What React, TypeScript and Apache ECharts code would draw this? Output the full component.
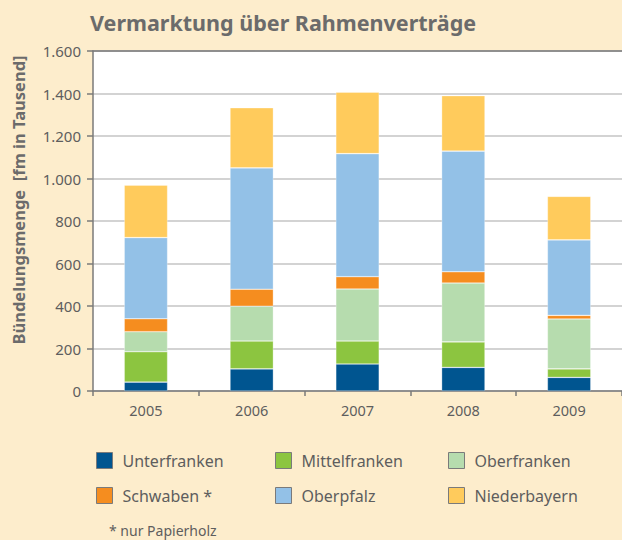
import { useEffect, useRef } from "react";
import * as echarts from "echarts";

const years = ["2005", "2006", "2007", "2008", "2009"];
const unterfranken = [42, 104, 127, 111, 64];
const mittelfranken = [143, 131, 108, 120, 40];
const oberfranken = [94, 164, 245, 277, 235];
const schwaben = [61, 80, 58, 53, 17];
const oberpfalz = [382, 571, 579, 568, 355];
const niederbayern = [247, 283, 289, 261, 205];

const seriesNames = ["Unterfranken", "Mittelfranken", "Oberfranken", "Schwaben", "Oberpfalz", "Niederbayern"];
const seriesData = [unterfranken, mittelfranken, oberfranken, schwaben, oberpfalz, niederbayern];
const seriesColors = ["#005590", "#8cc540", "#b6dcae", "#f58d1f", "#93c1e7", "#ffcb5c"];

const FONT = "Noto Sans";
const TEXT = "#5e5e5e";

function fmt(v: number): string {
  if (v >= 1000) {
    return Math.floor(v / 1000) + "." + String(v % 1000).padStart(3, "0");
  }
  return String(v);
}

export default function App() {
  const ref = useRef<HTMLDivElement>(null);
  useEffect(() => {
    document.body.style.margin = "0";
    if (!ref.current) return;
    const chart = echarts.init(ref.current, undefined, { renderer: "svg" });
    const legendCommon = {
      orient: "vertical" as const,
      top: 452,
      padding: 0,
      itemWidth: 16,
      itemHeight: 16,
      itemGap: 18,
      icon: "rect",
      itemStyle: { borderColor: "#7a7a7a", borderWidth: 1 },
      textStyle: { fontFamily: FONT, fontSize: 16, color: TEXT, padding: [0, 0, 0, 5] },
      formatter: (name: string) => (name === "Schwaben" ? "Schwaben *" : name),
      selectedMode: false,
    };
    chart.setOption({
      animation: false,
      backgroundColor: "#fdedcc",
      textStyle: { fontFamily: FONT },
      title: {
        text: "Vermarktung über Rahmenverträge",
        left: 85,
        top: 6,
        padding: [5, 5, 5, 5],
        textStyle: { fontFamily: FONT, fontSize: 21.5, fontWeight: "bold", color: "#6b6b6b" },
      },
      legend: [
        { ...legendCommon, left: 96, data: ["Unterfranken", "Schwaben"] },
        { ...legendCommon, left: 275, data: ["Mittelfranken", "Oberpfalz"] },
        { ...legendCommon, left: 448, data: ["Oberfranken", "Niederbayern"] },
      ],
      grid: {
        left: 93,
        top: 51,
        right: 0,
        bottom: 149,
        show: true,
        backgroundColor: "#ffffff",
        borderWidth: 0,
      },
      xAxis: [
        {
          type: "category",
          data: years,
          axisLine: { lineStyle: { color: "#7a7a7a", width: 1.5 } },
          axisTick: { show: true, length: 5, lineStyle: { color: "#7a7a7a", width: 1.5 } },
          axisLabel: { fontFamily: FONT, fontSize: 14.5, color: TEXT, margin: 11 },
        },
        {
          type: "category",
          data: years,
          position: "top",
          axisLine: { lineStyle: { color: "#7a7a7a", width: 1.5 } },
          axisTick: { show: false },
          axisLabel: { show: false },
        },
      ],
      yAxis: {
        type: "value",
        min: 0,
        max: 1600,
        interval: 200,
        axisLine: { show: true, lineStyle: { color: "#7a7a7a", width: 1.5 } },
        axisTick: { show: true, length: 6, lineStyle: { color: "#7a7a7a", width: 1.5 } },
        axisLabel: { fontFamily: FONT, fontSize: 15, color: TEXT, margin: 12, formatter: (v: number) => fmt(v) },
        splitLine: { lineStyle: { color: "#c4c4c4", width: 1.5 } },
      },
      graphic: [
        {
          type: "text",
          x: 18,
          y: 200,
          rotation: Math.PI / 2,
          style: {
            text: "Bündelungsmenge  [fm in Tausend]",
            fontFamily: FONT,
            fontSize: 16.5,
            fontWeight: "bold",
            fill: "#6b6b6b",
            align: "center",
            verticalAlign: "middle",
          },
        },
        {
          type: "text",
          x: 109,
          y: 530,
          style: {
            text: "* nur Papierholz",
            fontFamily: FONT,
            fontSize: 14,
            fill: TEXT,
            align: "left",
            verticalAlign: "middle",
          },
        },
      ],
      series: seriesNames.map((name, i) => ({
        name,
        type: "bar",
        stack: "total",
        xAxisIndex: 0,
        barWidth: "41%",
        data: seriesData[i],
        itemStyle: { color: seriesColors[i], borderColor: "rgba(255,255,255,0.5)", borderWidth: 0.6 },
      })),
    });
    return () => chart.dispose();
  }, []);
  return <div ref={ref} style={{ width: 622, height: 540 }} />;
}
